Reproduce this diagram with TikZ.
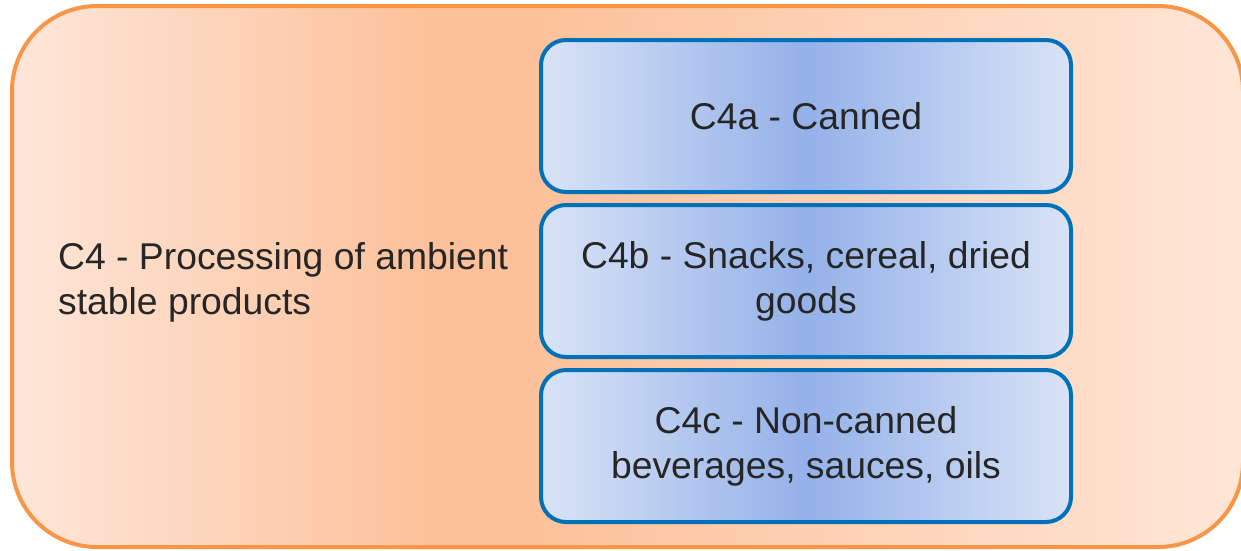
\documentclass[tikz,border=0pt]{standalone}
\usepackage{fontspec}
\setmainfont{Liberation Sans}
\usepackage{tikz}

\definecolor{peachleft}{HTML}{FEE6D9}
\definecolor{peachdeep}{HTML}{FCC19A}
\definecolor{peachright}{HTML}{FFE6D7}
\definecolor{orangeline}{HTML}{F79646}
\definecolor{boxblue}{HTML}{0070B8}
\definecolor{blueinner}{HTML}{94B1E9}
\definecolor{blueouter}{HTML}{D9E3F6}
\definecolor{textgray}{HTML}{262626}

\pgfdeclarehorizontalshading{peachshade}{100bp}{color(0bp)=(peachleft); color(25bp)=(peachleft); color(42bp)=(peachdeep); color(46bp)=(peachdeep); color(75bp)=(peachright); color(100bp)=(peachright)}
\pgfdeclarehorizontalshading{blueshade}{100bp}{color(0bp)=(blueouter); color(25bp)=(blueouter); color(50bp)=(blueinner); color(75bp)=(blueouter); color(100bp)=(blueouter)}

\tikzset{
    subbox/.style={shape=rectangle, rounded corners=25pt, draw=boxblue, line width=4pt,
        shading=blueshade, minimum width=530pt, minimum height=152pt, inner sep=0pt,
        align=center, text=textgray, font=\fontsize{37.3}{45}\selectfont},
}

\begin{document}
\begin{tikzpicture}[x=1pt, y=-1pt]
    \useasboundingbox (0,0) rectangle (1241,550);
    \draw[orangeline, line width=4pt, shading=peachshade, rounded corners=85pt] (12,6) rectangle (1243,547);
    \node[anchor=west, inner sep=0pt, align=left, text=textgray, font=\fontsize{37.3}{45}\selectfont] (C4) at (58,282) {C4 - Processing of ambient\\stable products};
    \node[subbox] (C4a) at (806,116) {C4a - Canned};
    \node[subbox] (C4b) at (806,281) {C4b - Snacks, cereal, dried\\goods};
    \node[subbox] (C4c) at (806,446) {C4c - Non-canned\\beverages, sauces, oils};
\end{tikzpicture}
\end{document}
